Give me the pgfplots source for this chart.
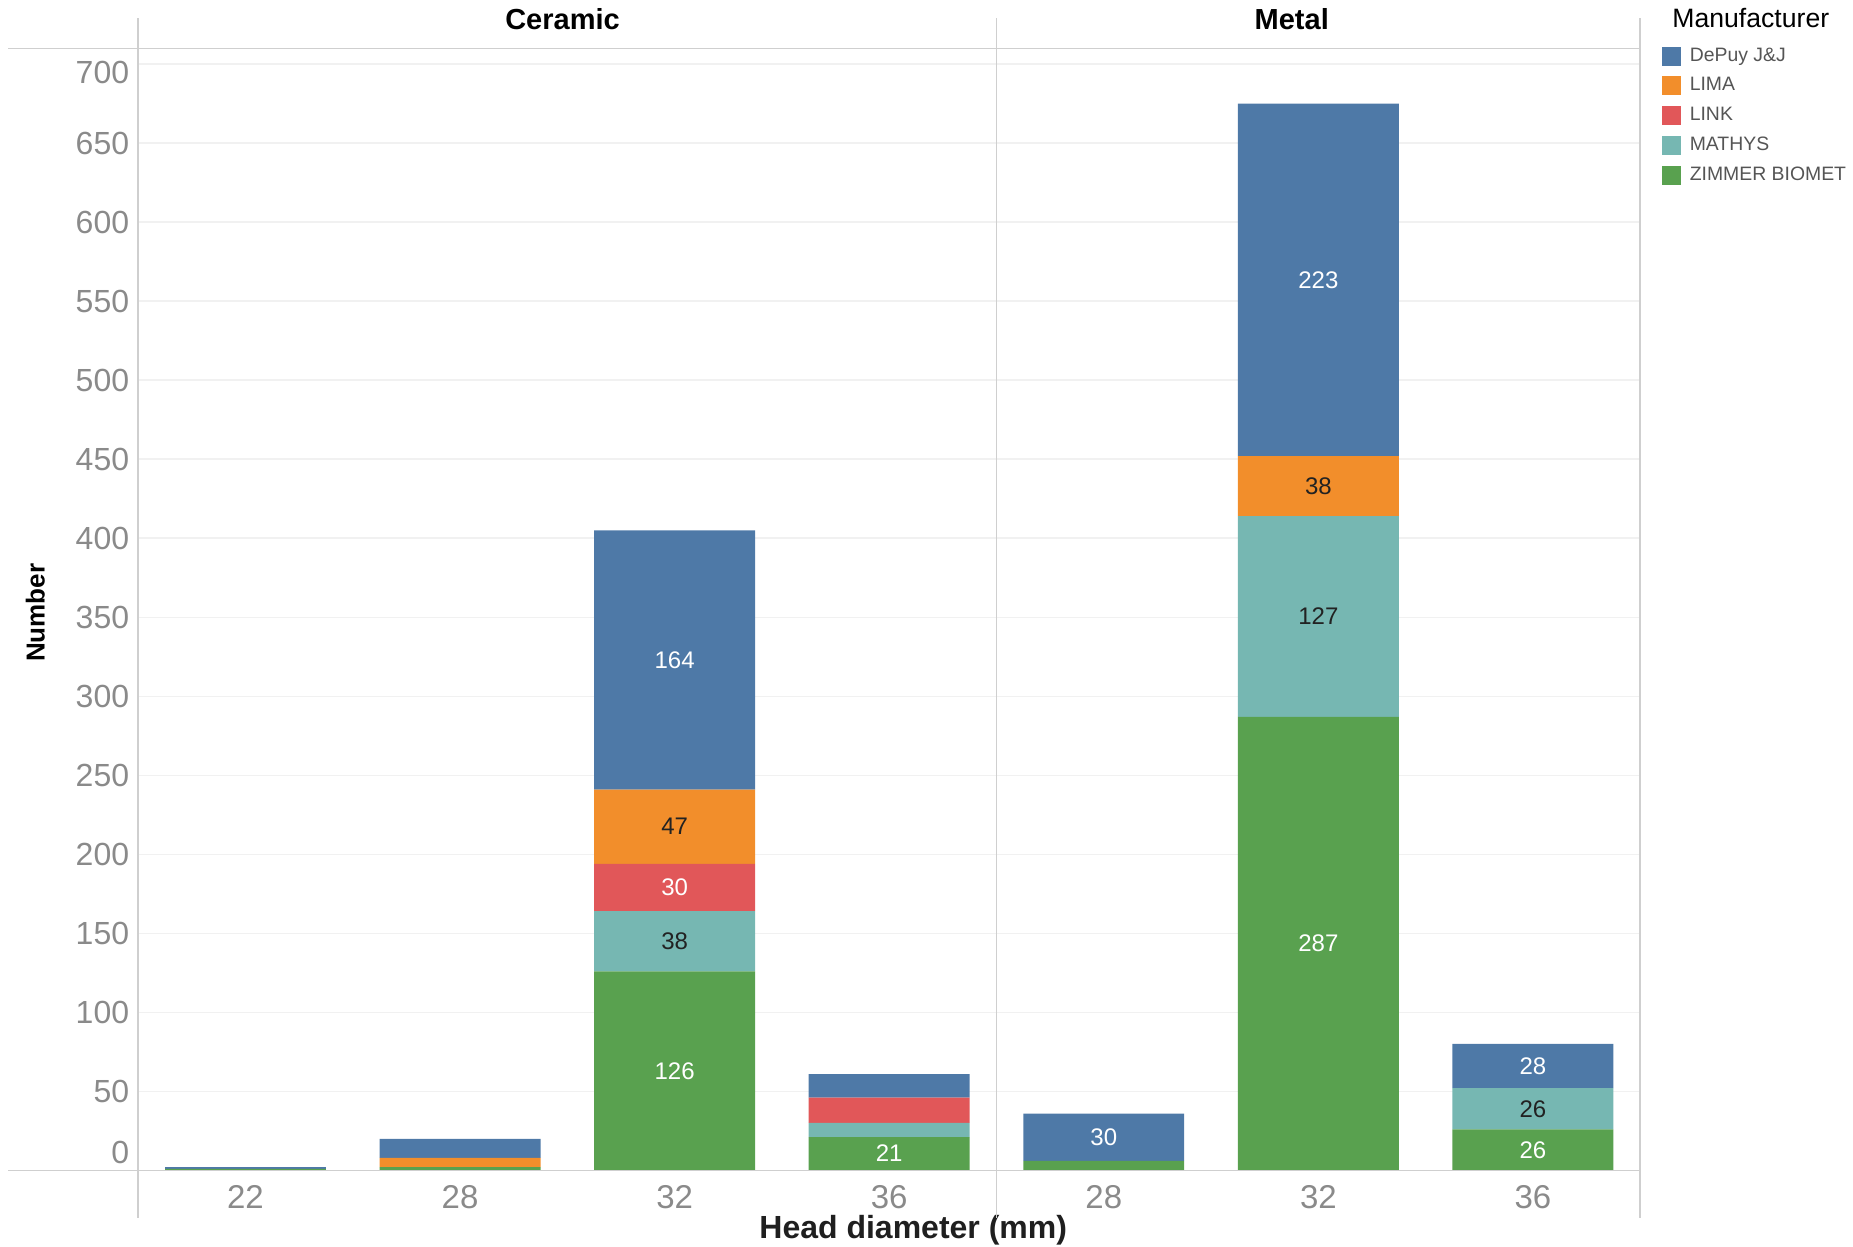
\documentclass[border=0pt]{standalone}
\usepackage{pgfplots}
\pgfplotsset{compat=1.18}
\usepackage{pgfplotstable}
\usepackage{fontspec}
\setmainfont{Liberation Sans}
\usetikzlibrary{calc}
\definecolor{cDePuy}{HTML}{4E79A7}
\definecolor{cLima}{HTML}{F28E2B}
\definecolor{cLink}{HTML}{E15759}
\definecolor{cMathys}{HTML}{76B7B2}
\definecolor{cZimmer}{HTML}{59A14F}
\definecolor{tickgray}{HTML}{8A8A8A}
\definecolor{linegray}{HTML}{CFCFCF}
\definecolor{gridgray}{HTML}{F1F1F1}
\definecolor{darktext}{HTML}{222222}
\definecolor{legtext}{HTML}{555555}

\pgfplotstableread{
x zimmer mathys link lima depuy
0 1   0   0  0  1
1 2   0   0  6  12
2 126 38  30 47 164
3 21  9   16 0  15
4 6   0   0  0  30
5 287 127 0  38 223
6 26  26  0  0  28
}\datatable

\pgfplotsset{sq legend/.style={legend image code/.code={\fill[##1] (0pt,-4.75pt) rectangle (9.5pt,4.75pt);}}}
\tikzset{wl/.style={font=\fontsize{12}{12}\selectfont, text=white},
         dl/.style={font=\fontsize{12}{12}\selectfont, text=darktext}}

\begin{document}
\begin{tikzpicture}
\begin{axis}[
  scale only axis,
  width=751pt, height=561pt,
  ybar stacked, bar width=0.75,
  xmin=-0.5, xmax=6.5, ymin=0, ymax=710,
  xtick={0,1,2,3,4,5,6},
  xticklabels={22,28,32,36,28,32,36},
  ytick={50,100,...,700},
  yticklabels={50,100,150,200,250,300,350,400,450,500,550,600,650,\raisebox{-9.5pt}[0pt][0pt]{700}},
  extra y ticks={0},
  extra y tick style={yticklabel style={yshift=9pt}},
  axis line style={draw=none},
  major tick length=0pt,
  ymajorgrids, grid style={gridgray, line width=0.8pt},
  /pgf/number format/assume math mode=true,
  yticklabel style={font=\fontsize{16}{16}\selectfont, text=tickgray, xshift=-1pt},
  xticklabel style={font=\fontsize{16.5}{16.5}\selectfont, text=tickgray, yshift=-4pt},
  clip=false,
  reverse legend,
  legend style={at={(1,1)}, anchor=north west, xshift=10.6pt, yshift=1.5pt, draw=none, fill=none,
    font=\fontsize{9.7}{9.7}\selectfont, text=legtext, inner sep=0pt, row sep=4.7pt,
    nodes={inner sep=1pt},
    /tikz/every odd column/.append style={column sep=3.5pt}},
  legend cell align=left,
]
\addplot[fill=cZimmer, draw=none, sq legend] table[x=x, y=zimmer] {\datatable};
\addlegendentry{ZIMMER BIOMET}
\addplot[fill=cMathys, draw=none, sq legend] table[x=x, y=mathys] {\datatable};
\addlegendentry{MATHYS}
\addplot[fill=cLink, draw=none, sq legend] table[x=x, y=link] {\datatable};
\addlegendentry{LINK}
\addplot[fill=cLima, draw=none, sq legend] table[x=x, y=lima] {\datatable};
\addlegendentry{LIMA}
\addplot[fill=cDePuy, draw=none, sq legend] table[x=x, y=depuy] {\datatable};
\addlegendentry{DePuy J\&J}

% anchor coordinates
\coordinate (sw) at (rel axis cs:0,0);
\coordinate (ne) at (rel axis cs:1,1);
\coordinate (a1) at (axis cs:2,63);
\coordinate (a2) at (axis cs:2,145);
\coordinate (a3) at (axis cs:2,179);
\coordinate (a4) at (axis cs:2,217.5);
\coordinate (a5) at (axis cs:2,323);
\coordinate (b1) at (axis cs:3,11);
\coordinate (c1) at (axis cs:4,21);
\coordinate (d1) at (axis cs:5,143.5);
\coordinate (d2) at (axis cs:5,350.5);
\coordinate (d3) at (axis cs:5,433);
\coordinate (d4) at (axis cs:5,563.5);
\coordinate (e1) at (axis cs:6,13);
\coordinate (e2) at (axis cs:6,39);
\coordinate (e3) at (axis cs:6,66);

% titles
\node[font=\bfseries\fontsize{14.5}{14.5}\selectfont] at ([yshift=14.8pt]rel axis cs:0.2825,1) {Ceramic};
\node[font=\bfseries\fontsize{14.5}{14.5}\selectfont] at ([yshift=14.8pt]rel axis cs:0.768,1) {Metal};
\node[font=\fontsize{13.3}{13.3}\selectfont] at ([xshift=55.3pt,yshift=15.4pt]rel axis cs:1,1) {Manufacturer};
\node[font=\bfseries\fontsize{16}{16}\selectfont, text=darktext!90!black] at ([yshift=-30pt]rel axis cs:0.516,0) {Head diameter (mm)};
\node[font=\bfseries\fontsize{13}{13}\selectfont, rotate=90] at ([xshift=-51.4pt]rel axis cs:0,0.497) {Number};
\end{axis}

% frame lines
\draw[linegray, line width=0.8pt] ([xshift=-65pt]sw) -- (sw -| ne);
\draw[linegray, line width=0.8pt] ([xshift=-65pt]sw |- ne) -- (ne);
\draw[linegray, line width=0.8pt] ([yshift=-23.6pt]sw) -- ([yshift=15.4pt]sw |- ne);
\draw[linegray, line width=0.8pt] ([yshift=-23.6pt]$(sw)!0.571429!(sw -| ne)$) -- ([yshift=15.4pt]$(sw |- ne)!0.571429!(ne)$);
\draw[linegray, line width=0.8pt] ([yshift=-23.6pt]sw -| ne) -- ([yshift=15.4pt]ne);

% value labels
\node[wl] at (a1) {126};
\node[dl] at (a2) {38};
\node[wl] at (a3) {30};
\node[dl] at (a4) {47};
\node[wl] at (a5) {164};
\node[wl] at (b1) {21};
\node[wl] at (c1) {30};
\node[wl] at (d1) {287};
\node[dl] at (d2) {127};
\node[dl] at (d3) {38};
\node[wl] at (d4) {223};
\node[wl] at (e1) {26};
\node[dl] at (e2) {26};
\node[wl] at (e3) {28};

\pgfresetboundingbox
\path ([xshift=-69.1pt,yshift=-37.8pt]sw) rectangle ([xshift=106.4pt,yshift=24.2pt]ne);
\end{tikzpicture}
\end{document}
